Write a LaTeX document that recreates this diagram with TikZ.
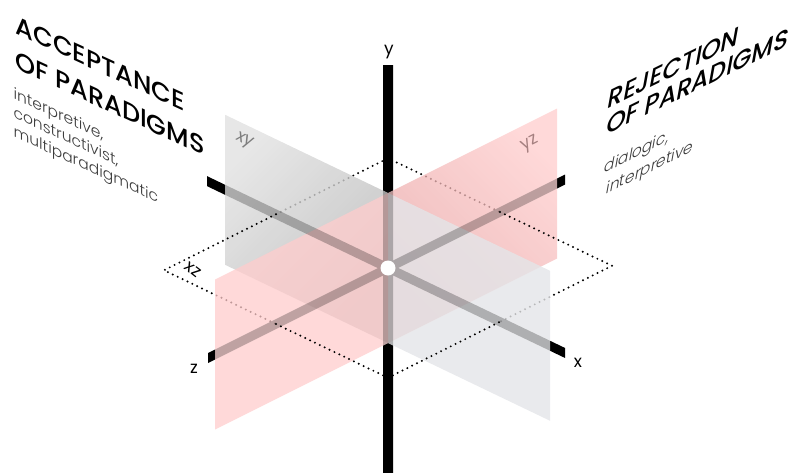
\documentclass[tikz,border=0pt]{standalone}
\usepackage{fontspec}
\setmainfont{Poppins}
\newfontfamily\titlefont{Poppins Medium}
\newfontfamily\titleslant{Poppins Medium}[FakeSlant=0.2]
\newfontfamily\notefont{Poppins Light}
\newfontfamily\noteslant{Poppins Light}[FakeSlant=0.2]
\usepackage{tikz}
\definecolor{grayfront}{RGB}{228,229,232}
\definecolor{graylight}{RGB}{225,225,225}
\definecolor{graydark}{RGB}{181,181,181}
\definecolor{pinkfront}{RGB}{255,204,204}
\definecolor{pinkdark}{RGB}{230,163,163}
\definecolor{notegray}{RGB}{60,60,60}
\definecolor{xylabel}{RGB}{125,125,125}
\definecolor{yzlabel}{RGB}{165,128,128}

\begin{document}
\begin{tikzpicture}[
    x=1pt, y=-1pt,
    % Text styles
    titleleft/.style={anchor=base west, yslant=-0.46,
      font=\titlefont\fontsize{25.5}{25.5}\selectfont},
    noteleft/.style={anchor=base west, yslant=-0.46, text=notegray,
      font=\notefont\fontsize{15.5}{15.5}\selectfont},
    titleright/.style={anchor=base west, yslant=0.49,
      font=\titleslant\fontsize{24.5}{24.5}\selectfont},
    noteright/.style={anchor=base west, yslant=0.49, text=notegray,
      font=\noteslant\fontsize{15.5}{15.5}\selectfont},
    axislabel/.style={anchor=base, font=\fontsize{17}{17}\selectfont},
    planelabel/.style={font=\fontsize{17}{17}\selectfont},
    % Plane styles
    grayback/.style={top color=graylight, bottom color=graydark,
      shading angle=45, fill opacity=0.8},
    pinkback/.style={top color=pinkfront, bottom color=pinkdark,
      shading angle=-45, fill opacity=0.75},
    grayplane/.style={fill=grayfront, fill opacity=0.8},
    pinkplane/.style={fill=pinkfront, fill opacity=0.75},
    % Line styles
    floorline/.style={line width=2.2pt, dash pattern=on 0pt off 5.4pt,
      line cap=round}
  ]
  \useasboundingbox (0,0) rectangle (796,472);

  % ============ 3D part ============
  \begin{scope}[shift={(388,268)},
      x={(1pt,-0.48pt)}, y={(0pt,1pt)}, z={(-1pt,-0.5pt)}]
    % floor square (xz)
    \coordinate (dL) at (-112,0,112);
    \coordinate (dT) at (-112,0,-112);
    \coordinate (dR) at (112,0,-112);
    \coordinate (dB) at (112,0,112);
    \coordinate (dLT) at (-112,0,0);
    \coordinate (dTR) at (0,0,-112);
    \coordinate (dRB) at (112,0,0);
    \coordinate (dBL) at (0,0,112);
    % y axis ends
    \coordinate (ytl) at (-5,75,0);
    \coordinate (ytc) at (0,75,0);
    \coordinate (ytr) at (0,75,-5);
    \coordinate (ybl) at (0,-75,5);
    \coordinate (ybc) at (0,-75,0);
    \coordinate (ybr) at (5,-75,0);
    \coordinate (ytop) at (0,203,0);
    \coordinate (ybot) at (0,-215,0);

    % Axis tips
    \fill (-181,-5,0) -- (-163,-5,0) -- (-163,5,0) -- (-181,5,0) -- cycle;
    \fill (162,-5,0) -- (177,-5,0) -- (177,5,0) -- (162,5,0) -- cycle;
    \fill (0,-5,-177) -- (0,-5,-169) -- (0,5,-169) -- (0,5,-177) -- cycle;
    \fill (0,-5,173) -- (0,-5,180) -- (0,5,180) -- (0,5,173) -- cycle;
    \fill (ytl) -- (ytc) -- (ytr) -- (ytr |- ytop) -- (ytl |- ytop) -- cycle;
    \fill (ybl) -- (ybc) -- (ybr) -- (ybr |- ybot) -- (ybl |- ybot) -- cycle;

    % far corner of the floor
    \draw[floorline] (dLT) -- (dT) -- (dTR);

    % back halves
    \shade[grayback] (-163,-75,0) -- (0,-75,0) -- (0,75,0) -- (-163,75,0) -- cycle;
    \shade[pinkback] (0,-75,0) -- (0,-75,-169) -- (0,75,-169) -- (0,75,0) -- cycle;

    % side corners of the floor
    \draw[floorline] (dLT) -- (dL) -- (dBL);
    \draw[floorline] (dTR) -- (dR) -- (dRB);

    % front halves
    \fill[grayplane] (0,-75,0) -- (162,-75,0) -- (162,75,0) -- (0,75,0) -- cycle;
    \fill[pinkplane] (0,-75,0) -- (0,-75,173) -- (0,75,173) -- (0,75,0) -- cycle;

    % near corner of the floor
    \draw[floorline] (dBL) -- (dB) -- (dRB);

    % axes seen through the planes
    \begin{scope}[transparency group, opacity=0.25]
      \fill (-163,-5,0) -- (162,-5,0) -- (162,5,0) -- (-163,5,0) -- cycle;
      \fill (0,-5,-169) -- (0,-5,173) -- (0,5,173) -- (0,5,-169) -- cycle;
      \fill (ytl) -- (ytc) -- (ytr) -- (ybr) -- (ybc) -- (ybl) -- cycle;
    \end{scope}

    \node[circle, fill=white, minimum size=15pt, inner sep=0pt] (origin) at (0,0,0) {};
  \end{scope}

  % ============ Axis labels ============
  \node[axislabel] (ylab) at (389,54) {y};
  \node[axislabel] (xlab) at (578,367) {x};
  \node[axislabel] (zlab) at (194,373) {z};

  % ============ Plane labels ============
  \node[planelabel, text=xylabel, rotate=-28] (xylab) at (244,141) {xy};
  \node[planelabel, text=yzlabel, rotate=27] (yzlab) at (530,144) {yz};
  \node[planelabel, rotate=-38] (xzlab) at (193,270) {xz};

  % ============ Left text ============
  \node[titleleft] (acc1) at (12,32) {ACCEPTANCE};
  \node[titleleft] (acc2) at (12,67) {OF PARADIGMS};
  \node[noteleft] (accn1) at (10,97) {interpretive,};
  \node[noteleft] (accn2) at (10,116) {constructivist,};
  \node[noteleft] (accn3) at (10,135) {multiparadigmatic};

  % ============ Right text ============
  \node[titleright] (rej1) at (603,111) {REJECTION};
  \node[titleright] (rej2) at (602,137) {OF PARADIGMS};
  \node[noteright] (rejn1) at (600,175) {dialogic,};
  \node[noteright] (rejn2) at (602,196) {interpretive};
\end{tikzpicture}
\end{document}
